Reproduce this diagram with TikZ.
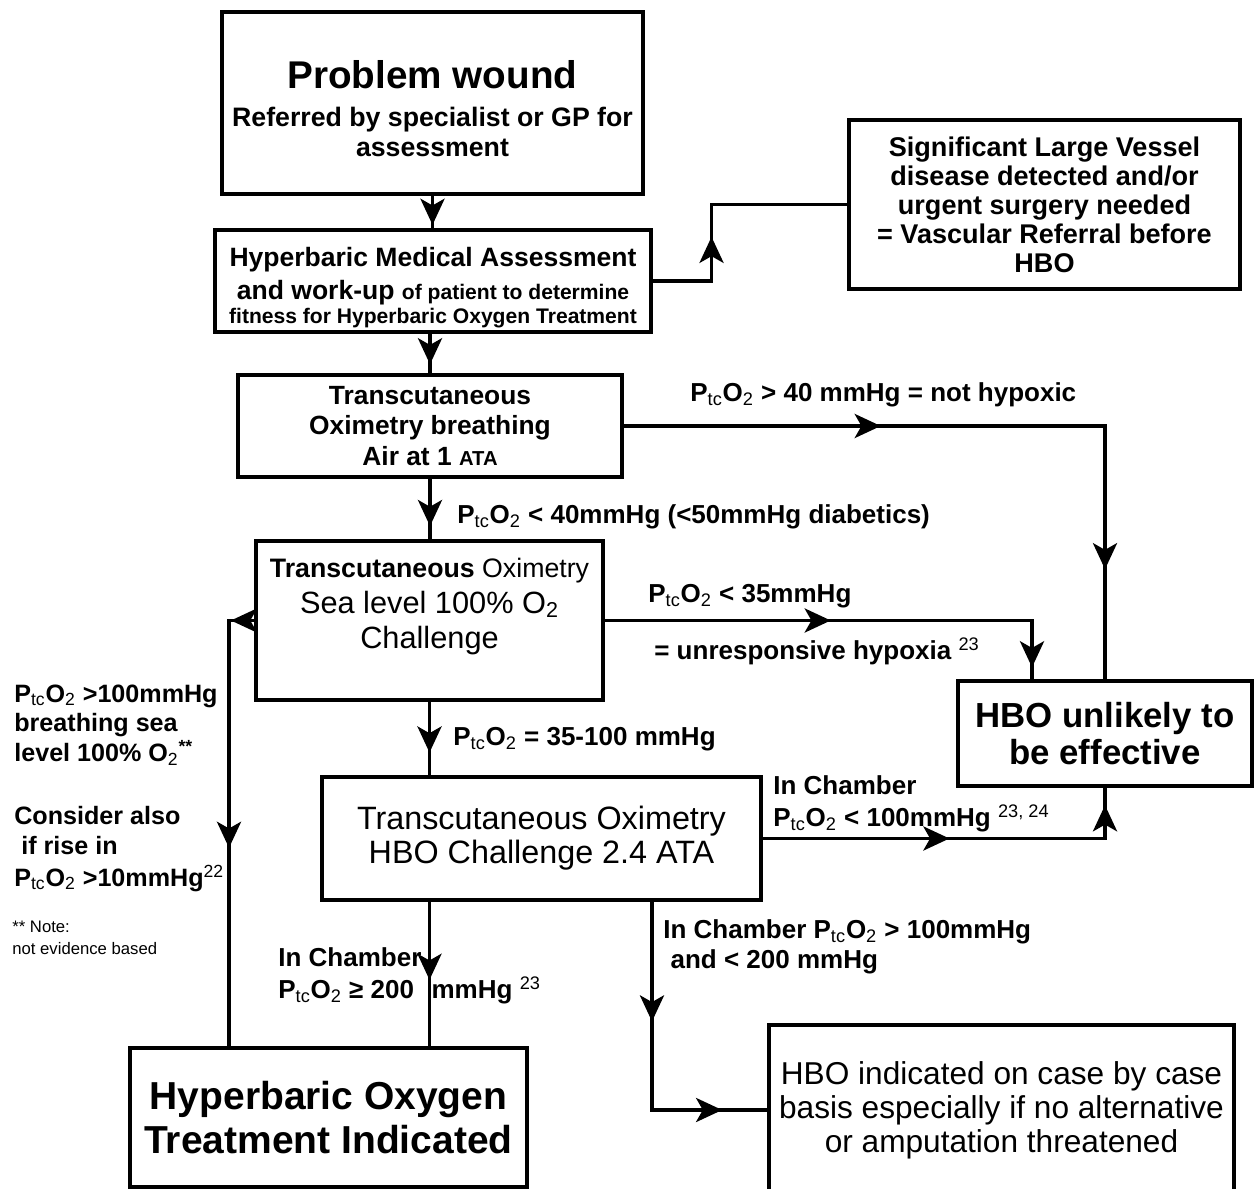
\documentclass[tikz,border=0pt]{standalone}
\usepackage{fontspec}
\setmainfont{Liberation Sans}
\usetikzlibrary{arrows.meta,positioning,decorations.markings}

\newcommand{\ptco}{P\textsubscript{\mdseries tc}O\textsubscript{\mdseries 2}}
\newcommand{\fs}[2]{\fontsize{#1}{#2}\selectfont}

\tikzset{
  box/.style={draw, line width=1.8pt, align=center, inner sep=2pt, font=\bfseries},
  flow/.style={line width=1.8pt},
  % barbed head drawn at the mark, tip on the mark
  mid/.style={postaction={decorate,decoration={markings,
    mark=at position #1 with {\fill (0,0) -- (-15pt,7pt) -- (-11pt,0) -- (-15pt,-7pt) -- cycle;}}}},
  lbl/.style={anchor=west, align=left, inner sep=0pt, font=\bfseries\fs{14.8}{17}}
}

\begin{document}
\begin{tikzpicture}[x=0.02cm, y=-0.02cm]
  \useasboundingbox (0,0) rectangle (1254,1189);

  % Boxes
  \node[box, minimum width=8.42cm, minimum height=3.64cm, font=\bfseries\fs{15.2}{17}] (b1) at (432.5,103)
    {{\fs{22}{26}Problem wound}\\[4.5pt]Referred by specialist or GP for\\assessment\\[-23pt]};
  \node[box, minimum width=8.72cm, minimum height=2.04cm, font=\bfseries\fs{15.1}{18.7}] (b2) at (433,281)
    {Hyperbaric Medical Assessment\\and work-up {\fs{12}{13}of patient to determine}\\[-4.7pt]{\fs{12}{14}fitness for Hyperbaric Oxygen Treatment}\\[-24pt]};
  \node[box, minimum width=7.82cm, minimum height=3.38cm, font=\bfseries\fs{15.4}{16.5}] (b3) at (1044.5,204.5)
    {Significant Large Vessel\\disease detected and/or\\urgent surgery needed\\= Vascular Referral before\\HBO};
  \node[box, minimum width=7.68cm, minimum height=2.04cm, font=\bfseries\fs{15}{17.5}] (b4) at (430,426)
    {Transcutaneous\\Oximetry breathing\\Air at 1 {\fs{11.5}{13}ATA}};
  \node[box, minimum width=6.94cm, minimum height=3.18cm, font=\bfseries\fs{15.2}{20.4}] (b5) at (429.5,620.5)
    {Transcutaneous {\mdseries Oximetry}\\{\fs{17.5}{20}\mdseries Sea level 100\% O\textsubscript{2}}\\{\fs{17.5}{20}\mdseries Challenge}\\[-1pt]};
  \node[box, minimum width=8.78cm, minimum height=2.46cm, font=\fs{18.4}{19.5}] (b6) at (541.5,838.5)
    {Transcutaneous Oximetry\\HBO Challenge 2.4 ATA};
  \node[box, minimum width=5.88cm, minimum height=2.10cm, font=\bfseries\fs{19.8}{21.5}] (b7) at (1105,733.5)
    {HBO unlikely to\\be effective};
  \node[box, minimum width=7.94cm, minimum height=2.78cm, font=\bfseries\fs{22.2}{25}] (b8) at (328.5,1117.5)
    {Hyperbaric Oxygen\\Treatment Indicated};
  \node[box, minimum width=9.30cm, minimum height=3.40cm, font=\fs{18}{19.3}] (b9) at (1001.5,1110)
    {HBO indicated on case by case\\basis especially if no alternative\\or amputation threatened};

  % Connectors
  \draw[flow, mid=0.89] (b1.south) -- (b2.north -| b1.south);
  \draw[flow, mid=0.38] (b2.east) -- ++(59,0) |- (b3.west);
  \draw[flow, mid=0.77] (b2.south -| b4.north) -- (b4.north);
  \draw[flow, mid=0.35, mid=0.85] (b4.east) -| (b7.north);
  \draw[flow, mid=0.78] (b4.south) -- (b5.north -| b4.south);
  \draw[flow, mid=0.465, mid=0.975] (b5.east) -| ([xshift=-1.46cm]b7.north);
  \draw[flow, mid=0.052, mid=0.56] (b5.west) -| ([xshift=-1.99cm]b8.north);
  \draw[flow, mid=0.69] (b5.south) -- (b6.north -| b5.south);
  \draw[flow, mid=0.475, mid=0.955] (b6.east) -| (b7.south);
  \draw[flow, mid=0.54] (b6.south -| b5.south) -- (b8.north -| b5.south);
  \draw[flow, mid=0.37, mid=0.86] ([xshift=2.21cm]b6.south) |- (b9.west);

  % Labels
  \node[lbl] (l1) at (690,395) {\ptco{} > 40 mmHg = not hypoxic};
  \node[lbl] (l2) at (457,517) {\ptco{} < 40mmHg (<50mmHg diabetics)};
  \node[lbl] (l3) at (648,596) {\ptco{} < 35mmHg};
  \node[lbl] (l4) at (654,651) {= unresponsive hypoxia \textsuperscript{\mdseries 23}};
  \node[lbl] (l5) at (453,739) {\ptco{} = 35-100 mmHg};
  \node[lbl] (l6) at (773,804) {In Chamber\\[1pt]\ptco{} < 100mmHg \textsuperscript{\mdseries 23, 24}};
  \node[lbl] (l7) at (663,947) {In Chamber \ptco{} > 100mmHg\\ \ and < 200 mmHg};
  \node[lbl] (l8) at (278,976) {In Chamber\\[1pt]\ptco{} ≥ 200\hspace{10pt}mmHg \textsuperscript{\mdseries 23}};
  \node[lbl, font=\bfseries\fs{14.3}{17}] (l9) at (14,725) {\ptco{} >100mmHg\\breathing sea\\level 100\% O\textsubscript{\mdseries 2}\textsuperscript{**}};
  \node[lbl, font=\bfseries\fs{14.3}{17}] (l10) at (14,849) {Consider also\\ \ if rise in\\[1pt]\ptco{} >10mmHg\textsuperscript{\mdseries 22}};
  \node[lbl, font=\fs{9.5}{12.5}] (l11) at (12,938) {** Note:\\not evidence based};
\end{tikzpicture}
\end{document}
